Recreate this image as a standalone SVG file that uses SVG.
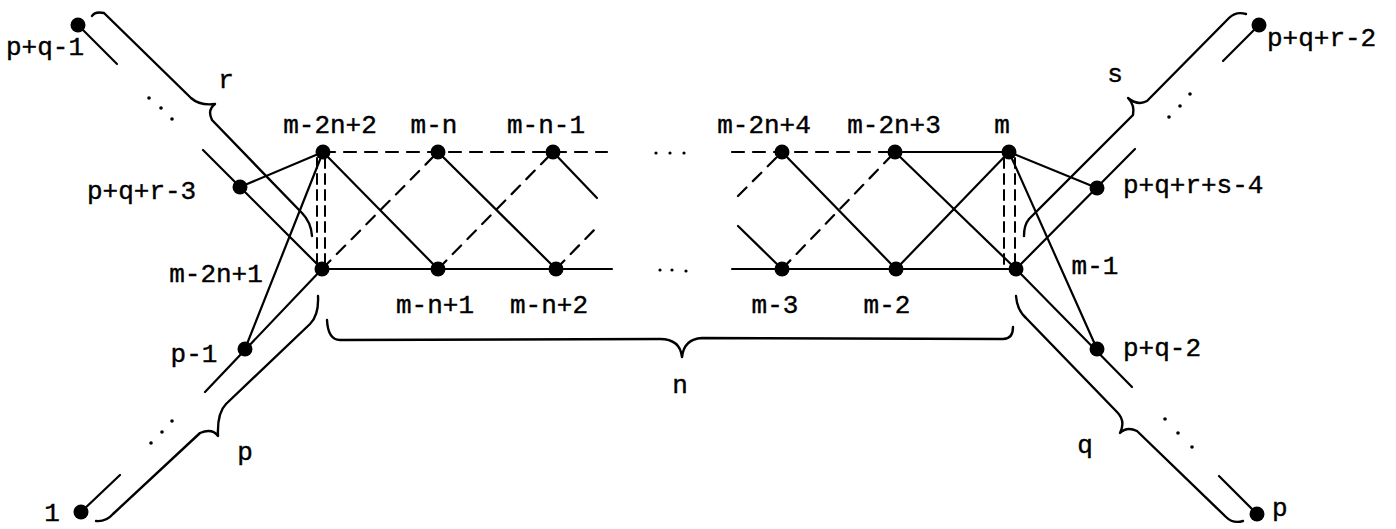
<svg xmlns="http://www.w3.org/2000/svg" width="1396" height="529" viewBox="0 0 1396 529">
<style>
.e{stroke:#000;stroke-width:2.2;fill:none;stroke-linecap:round}
.d{stroke-dasharray:12 9}
.v{stroke-dasharray:10 6;stroke-width:2}
.b{stroke:#000;stroke-width:2.4;fill:none;stroke-linejoin:round;stroke-linecap:round}
.n{fill:#000}
.dot{fill:#000}
text{font-family:"Liberation Mono","Courier New",monospace;font-size:26px;fill:#000;stroke:#000;stroke-width:0.4}
.c{text-anchor:middle}
</style>
<rect width="1396" height="529" fill="#fff"/>
<g id="connectors">
  <line class="e" x1="78" y1="25" x2="117" y2="64"/>
  <line class="e" x1="203" y1="150" x2="322" y2="269"/>
  <line class="e" x1="81" y1="512" x2="120" y2="475"/>
  <line class="e" x1="205" y1="392" x2="322" y2="269"/>
  <line class="e" x1="240" y1="187" x2="323" y2="152"/>
  <line class="e" x1="245" y1="349" x2="323" y2="152"/>
  <line class="e" x1="1259" y1="25" x2="1223" y2="61"/>
  <line class="e" x1="1135" y1="149" x2="1016" y2="269"/>
  <line class="e" x1="1009" y1="152" x2="1097" y2="188"/>
  <line class="e" x1="1009" y1="152" x2="1097" y2="349"/>
  <line class="e" x1="1016" y1="269" x2="1132" y2="387"/>
  <line class="e" x1="1219" y1="476" x2="1257" y2="514"/>
  <line class="e d" x1="323" y1="152" x2="607" y2="152"/>
  <line class="e d" x1="732" y1="152" x2="895" y2="152"/>
  <line class="e" x1="895" y1="152" x2="1009" y2="152"/>
  <line class="e" x1="322" y1="269" x2="612" y2="269"/>
  <line class="e" x1="732" y1="269" x2="1016" y2="269"/>
  <line class="e" x1="323" y1="152" x2="438" y2="269"/>
  <line class="e" x1="438" y1="152" x2="556" y2="269"/>
  <line class="e" x1="553" y1="152" x2="597" y2="198"/>
  <line class="e d" x1="322" y1="269" x2="438" y2="152"/>
  <line class="e d" x1="438" y1="269" x2="553" y2="152"/>
  <line class="e d" x1="556" y1="269" x2="597" y2="227"/>
  <line class="e d" x1="738" y1="196" x2="782" y2="152"/>
  <line class="e" x1="738" y1="226" x2="782" y2="269"/>
  <line class="e" x1="782" y1="152" x2="896" y2="269"/>
  <line class="e d" x1="782" y1="269" x2="895" y2="152"/>
  <line class="e" x1="895" y1="152" x2="1016" y2="269"/>
  <line class="e" x1="896" y1="269" x2="1009" y2="152"/>
  <line class="e v" x1="317" y1="158" x2="317" y2="264"/>
  <line class="e v" x1="325" y1="158" x2="325" y2="264"/>
  <line class="e v" x1="1004" y1="158" x2="1004" y2="264"/>
  <line class="e v" x1="1015" y1="158" x2="1015" y2="264"/>
</g>
<g id="braces">
  <path class="b" d="M 92,16 Q 95,11 104,13 L 191,98 Q 200,106 215,104 Q 207,110 212,120 L 302,213 Q 311,222 312,236"/>
  <text x="226" y="88" class="c">r</text>
  <path class="b" d="M 318,296 Q 319,315 310,324 L 226,404 Q 217,413 218,436 Q 212,428 200,433 L 113,514 Q 106,522 96,521"/>
  <text x="245" y="460" class="c">p</text>
  <path class="b" d="M 327,320 Q 328,340 340,340 L 660,339 Q 680,339 682,357 Q 684,339 702,338 L 1003,339 Q 1013,339 1013,327"/>
  <text x="680" y="393" class="c">n</text>
  <path class="b" d="M 1246,14 Q 1236,11 1229,18 L 1147,101 Q 1138,106 1128,98 Q 1135,105 1133,115 L 1029,219 Q 1024,225 1024,236"/>
  <text x="1115" y="82" class="c">s</text>
  <path class="b" d="M 1016,296 Q 1017,310 1026,318 L 1117,412 Q 1126,421 1120,433 Q 1127,426 1137,431 L 1226,517 Q 1233,524 1243,521"/>
  <text x="1085" y="453" class="c">q</text>
</g>
<g id="ellipses">
  <circle class="dot" cx="149" cy="98" r="1.8"/><circle class="dot" cx="161" cy="108" r="1.8"/><circle class="dot" cx="172" cy="119" r="1.8"/>
  <circle class="dot" cx="151" cy="443" r="1.8"/><circle class="dot" cx="162" cy="432" r="1.8"/><circle class="dot" cx="172" cy="421" r="1.8"/>
  <circle class="dot" cx="1190" cy="94" r="1.8"/><circle class="dot" cx="1180" cy="106" r="1.8"/><circle class="dot" cx="1169" cy="117" r="1.8"/>
  <circle class="dot" cx="1165" cy="419" r="1.8"/><circle class="dot" cx="1178" cy="433" r="1.8"/><circle class="dot" cx="1192" cy="447" r="1.8"/>
  <circle class="dot" cx="656" cy="153" r="1.6"/><circle class="dot" cx="670" cy="153" r="1.6"/><circle class="dot" cx="684" cy="153" r="1.6"/>
  <circle class="dot" cx="660" cy="270" r="1.6"/><circle class="dot" cx="672" cy="270" r="1.6"/><circle class="dot" cx="686" cy="271" r="1.6"/>
</g>
<g id="node-pq1"><circle class="n" cx="78" cy="25" r="7.5"/><text x="6" y="55">p+q-1</text></g>
<g id="node-pqr3"><circle class="n" cx="240" cy="187" r="7.5"/><text x="87" y="199">p+q+r-3</text></g>
<g id="node-m2n2"><circle class="n" cx="323" cy="152" r="7.5"/><text x="330" y="133" class="c">m-2n+2</text></g>
<g id="node-mn"><circle class="n" cx="438" cy="152" r="7.5"/><text x="434" y="133" class="c">m-n</text></g>
<g id="node-mnm1"><circle class="n" cx="553" cy="152" r="7.5"/><text x="546" y="133" class="c">m-n-1</text></g>
<g id="node-m2n4"><circle class="n" cx="782" cy="152" r="7.5"/><text x="764" y="133" class="c">m-2n+4</text></g>
<g id="node-m2n3"><circle class="n" cx="895" cy="152" r="7.5"/><text x="894" y="133" class="c">m-2n+3</text></g>
<g id="node-m"><circle class="n" cx="1009" cy="152" r="7.5"/><text x="1002" y="133" class="c">m</text></g>
<g id="node-m2n1"><circle class="n" cx="322" cy="269" r="7.5"/><text x="216" y="282" class="c">m-2n+1</text></g>
<g id="node-mn1"><circle class="n" cx="438" cy="269" r="7.5"/><text x="435" y="313" class="c">m-n+1</text></g>
<g id="node-mn2"><circle class="n" cx="556" cy="269" r="7.5"/><text x="549" y="313" class="c">m-n+2</text></g>
<g id="node-m3"><circle class="n" cx="782" cy="269" r="7.5"/><text x="775" y="313" class="c">m-3</text></g>
<g id="node-m2"><circle class="n" cx="896" cy="269" r="7.5"/><text x="887" y="313" class="c">m-2</text></g>
<g id="node-m1"><circle class="n" cx="1016" cy="269" r="7.5"/><text x="1095" y="274" class="c">m-1</text></g>
<g id="node-p1"><circle class="n" cx="245" cy="349" r="7.5"/><text x="194" y="362" class="c">p-1</text></g>
<g id="node-1"><circle class="n" cx="81" cy="512" r="7.5"/><text x="52" y="521" class="c">1</text></g>
<g id="node-pqr2"><circle class="n" cx="1259" cy="25" r="7.5"/><text x="1267" y="46">p+q+r-2</text></g>
<g id="node-pqrs4"><circle class="n" cx="1097" cy="188" r="7.5"/><text x="1123" y="193">p+q+r+s-4</text></g>
<g id="node-pq2"><circle class="n" cx="1097" cy="349" r="7.5"/><text x="1123" y="356">p+q-2</text></g>
<g id="node-p"><circle class="n" cx="1257" cy="514" r="7.5"/><text x="1272" y="516">p</text></g>
</svg>
